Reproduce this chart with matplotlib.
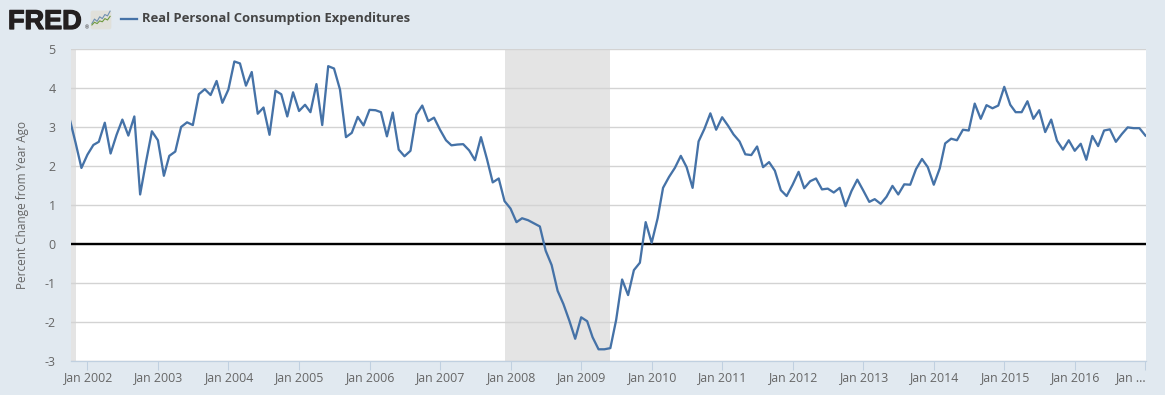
import matplotlib
matplotlib.use("Agg")
import matplotlib.pyplot as plt
import matplotlib.dates as mdates
import matplotlib.patheffects as pe
import pandas as pd
from matplotlib.patches import FancyBboxPatch

plt.rcParams["font.family"] = ["Open Sans", "DejaVu Sans"]
plt.rcParams["axes.unicode_minus"] = False

W, H = 1165, 395
BG = "#e1e9f0"
LINE = "#4572a7"
GRID = "#d3d3d3"
AXIS = "#c0d0e0"
TEXT = "#666666"

# monthly, Oct 2001 to Jan 2017
dates = pd.date_range("2001-10-01", periods=184, freq="MS")
values = [
    3.21, 2.59, 1.95, 2.29, 2.54, 2.62, 3.11, 2.32, 2.80, 3.19, 2.78, 3.27,
    1.27, 2.12, 2.89, 2.66, 1.75, 2.26, 2.37, 3.00, 3.12, 3.05, 3.84, 3.97,
    3.82, 4.18, 3.62, 3.96, 4.68, 4.63, 4.06, 4.41, 3.34, 3.50, 2.80, 3.93,
    3.84, 3.27, 3.89, 3.41, 3.57, 3.38, 4.10, 3.05, 4.56, 4.50, 3.96, 2.74,
    2.85, 3.26, 3.04, 3.44, 3.43, 3.38, 2.76, 3.37, 2.42, 2.25, 2.39, 3.32,
    3.55, 3.15, 3.24, 2.93, 2.66, 2.53, 2.55, 2.56, 2.40, 2.15, 2.74, 2.18,
    1.58, 1.68, 1.10, 0.91, 0.56, 0.66, 0.61, 0.53, 0.45, -0.17, -0.54, -1.20,
    -1.54, -1.97, -2.43, -1.88, -1.98, -2.39, -2.70, -2.70, -2.67, -1.95, -0.91, -1.31,
    -0.67, -0.48, 0.56, 0.03, 0.66, 1.44, 1.72, 1.95, 2.26, 1.97, 1.44, 2.63,
    2.95, 3.35, 2.93, 3.25, 3.03, 2.81, 2.63, 2.30, 2.28, 2.50, 1.97, 2.10,
    1.88, 1.38, 1.23, 1.52, 1.85, 1.43, 1.61, 1.68, 1.40, 1.42, 1.32, 1.44,
    0.97, 1.36, 1.65, 1.37, 1.08, 1.15, 1.03, 1.21, 1.49, 1.27, 1.53, 1.52,
    1.92, 2.18, 1.97, 1.52, 1.94, 2.58, 2.70, 2.66, 2.93, 2.91, 3.60, 3.21,
    3.56, 3.48, 3.55, 4.03, 3.57, 3.38, 3.38, 3.66, 3.21, 3.43, 2.87, 3.19,
    2.65, 2.42, 2.66, 2.39, 2.57, 2.16, 2.77, 2.51, 2.91, 2.94, 2.62, 2.82,
    2.99, 2.97, 2.97, 2.78,
]
recessions = [("2001-10-08", "2001-11-01"), ("2007-12-01", "2009-06-01")]
y_ticks = [-3, -2, -1, 0, 1, 2, 3, 4, 5]
tick_years = list(range(2002, 2018))
series_name = "Real Personal Consumption Expenditures"
y_label = "Percent Change from Year Ago"

# logo thumbnail lines
logo_blue = [1, 3, 2, 4, 3.2, 5, 4.4, 6.5]
logo_green = [0.4, 1.6, 1, 2.2, 1.8, 3.2, 2.6, 4.2]

fig = plt.figure(figsize=(W / 100, H / 100), dpi=100, facecolor=BG)
ax = fig.add_axes([71 / W, 1 - 361 / H, (1146 - 71) / W, (361 - 49) / H])
ax.set_facecolor("white")

for start, end in recessions:
    ax.axvspan(pd.Timestamp(start), pd.Timestamp(end), color="#e4e4e4", lw=0, zorder=1)

ax.set_ylim(-3, 5)
ax.set_yticks(y_ticks)
ax.grid(axis="y", color=GRID, lw=1.0, zorder=2)
ax.axhline(0, color="black", lw=1.7, zorder=3)
ax.plot(dates, values, color=LINE, lw=1.65, zorder=4, solid_joinstyle="round")
ax.set_xlim(pd.Timestamp("2001-10-08"), pd.Timestamp("2017-01-04"))

ax.set_xticks([pd.Timestamp(f"{y}-01-01") for y in tick_years])
ax.xaxis.set_major_formatter(mdates.DateFormatter("%b %Y"))
labels = [f"Jan {y}" for y in tick_years[:-1]] + ["Jan ..."]
ax.set_xticklabels(labels)
ax.tick_params(axis="x", length=6.6, width=0.75, color=AXIS, labelcolor=TEXT, labelsize=8.9, pad=0.8)
ax.tick_params(axis="y", length=0, labelcolor=TEXT, labelsize=9.0, pad=11)
ax.get_xticklabels()[-1].set_ha("right")

for s in ["top", "left", "right"]:
    ax.spines[s].set_visible(False)
ax.spines["bottom"].set_color(AXIS)
ax.spines["bottom"].set_linewidth(0.9)

fig.text(23 / W, 1 - 205 / H, y_label, rotation=90, color=TEXT, fontsize=8.5, ha="center", va="center")

# header
fred = fig.text(8 / W, 1 - 29 / H, "FRED", family=["Liberation Sans"], weight="bold", fontsize=19.5, color="#231f20", ha="left", va="baseline")
fred.set_path_effects([pe.withStroke(linewidth=0.9, foreground="#231f20")])
fig.text(84.5 / W, 1 - 29.5 / H, "®", fontsize=3.5, color="#231f20", ha="left", va="baseline")
logo = fig.add_axes([90 / W, 1 - 30 / H, 22 / W, 20 / H])
logo.axis("off")
logo.set_xlim(0, 1)
logo.set_ylim(0, 1)
logo.add_patch(FancyBboxPatch((0.03, 0.03), 0.94, 0.94, boxstyle="round,pad=0,rounding_size=0.1", fc="#e0e0da", ec="none"))
logo2 = fig.add_axes([91 / W, 1 - 27 / H, 20 / W, 17 / H])
logo2.axis("off")
logo2.plot(logo_blue, color="#6f90b0", lw=0.8)
logo2.plot(logo_green, color="#6f9a40", lw=0.8)
logo2.set_ylim(-0.5, 7)

fig.add_artist(plt.Line2D([121 / W, 137 / W], [1 - 18.5 / H, 1 - 18.5 / H], color=LINE, lw=1.65))
fig.text(142 / W, 1 - 18.5 / H, series_name, color="#444444", fontsize=9.35, weight="bold", ha="left", va="center")

fig.savefig("out.png", dpi=100, facecolor=BG)
